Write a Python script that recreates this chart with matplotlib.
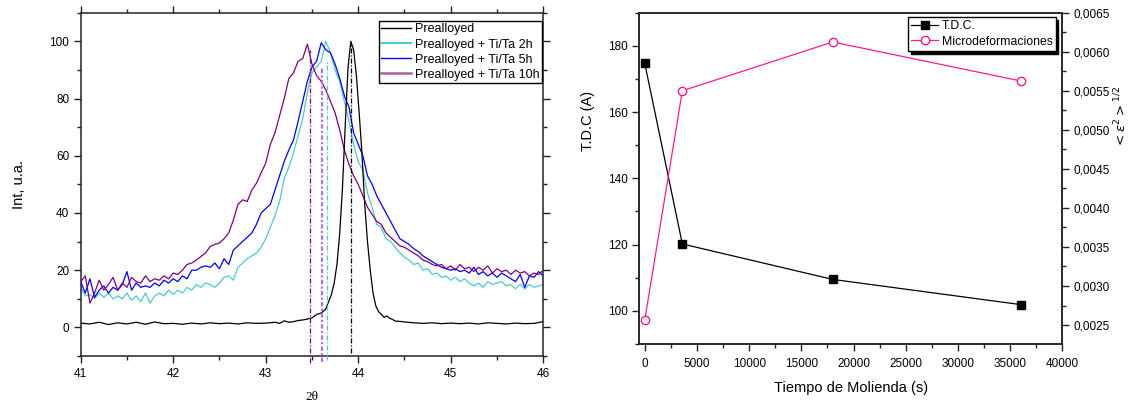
import numpy as np
import matplotlib
matplotlib.use("Agg")
import matplotlib.pyplot as plt
from matplotlib.ticker import MultipleLocator, FuncFormatter
from matplotlib.lines import Line2D

plt.rcParams['font.family'] = ['Liberation Sans', 'DejaVu Sans']

# ---------------- Left panel data (XRD peak) ----------------
two_theta = np.linspace(41.0, 46.0, 101)  # sampling grid, step 0.05

int_2h = [14, 11, 11.5, 10, 12, 10.5, 12, 10, 11, 10,
          12, 9.5, 11, 9, 12, 8.5, 11, 12, 11, 13,
          11.5, 13, 12, 14, 13, 15, 14, 15.5, 15, 14,
          15.5, 17.5, 18, 16.5, 21, 22.5, 24, 25, 26, 28,
          31, 35, 39, 44, 52, 56, 61, 67, 73, 82,
          89, 91, 93, 100, 96, 90, 86, 79, 72, 64,
          58, 55, 47, 42, 36, 35, 31, 30, 28, 26,
          24.5, 23.5, 22, 22.5, 20, 20.5, 18.5, 19, 17.5, 18,
          16.5, 17.5, 16, 17, 15.5, 14.5, 15.5, 14, 16, 15,
          15.5, 16, 14.5, 15, 13.5, 15, 13.5, 15, 14, 14.5, 15]

int_5h = [16, 12, 17, 10.5, 13, 14.5, 12, 14, 13, 15,
          19.5, 13, 15.5, 14, 14.5, 14, 15.5, 14.5, 16.5, 15.5,
          17, 16, 18, 17, 20, 20, 21, 21.5, 21, 22.5,
          20.5, 24, 22, 27, 28.5, 30, 31.5, 33, 36, 40,
          41.5, 43, 48, 53, 58, 62, 65.5, 72, 79, 86,
          91, 93, 99.5, 97, 96, 92, 87, 81, 77, 68,
          64, 60, 53, 50, 46, 43, 40, 37, 34, 31,
          30, 29, 27.5, 26.5, 25, 24, 23, 22, 21, 20.5,
          20, 20.5, 19.5, 20, 19, 21, 18.5, 19.5, 18, 19,
          17.5, 19, 18, 17, 16, 18.5, 14, 18, 17.5, 19.5, 18]

int_10h = [16, 18, 8.5, 12, 16.5, 13, 15, 17.5, 13, 15.5,
           14, 17.5, 16, 15.5, 18, 16, 17, 16.5, 18, 17,
           19, 18.5, 20, 22, 22.5, 23.5, 24.8, 26, 28.3, 29,
           29.5, 31, 33, 37.5, 43, 44.6, 44, 48, 50.4, 54,
           57.4, 64, 68, 74, 80, 87, 89, 93, 94, 99,
           92, 88, 86, 83, 79, 75, 69, 62, 57, 53,
           50, 46, 42, 39.5, 37, 36, 33, 31.5, 30, 28.5,
           28, 27, 26, 25, 23.5, 23, 22, 21.5, 22, 20.5,
           21.5, 20, 22, 20.5, 21, 19.5, 21, 20, 21.5, 19,
           20.5, 19.5, 20, 18.5, 20, 19, 19.5, 18, 19, 18.5, 20]

pre_theta = [41.0, 41.1, 41.2, 41.3, 41.4, 41.5, 41.6, 41.7, 41.8, 41.9,
             42.0, 42.1, 42.2, 42.3, 42.4, 42.5, 42.6, 42.7, 42.8, 42.9,
             43.0, 43.1, 43.15, 43.2, 43.25, 43.3, 43.35, 43.4, 43.45, 43.5,
             43.55, 43.6, 43.65, 43.68, 43.71, 43.74, 43.77, 43.80, 43.83, 43.86,
             43.89, 43.92, 43.95, 43.98, 44.01, 44.04, 44.07, 44.10, 44.13, 44.16,
             44.19, 44.22, 44.25, 44.28, 44.31, 44.34, 44.37, 44.4, 44.45, 44.5,
             44.6, 44.7, 44.8, 44.9, 45.0, 45.1, 45.2, 45.3, 45.4, 45.5,
             45.6, 45.7, 45.8, 45.9, 46.0]
pre_int = [1.5, 1.2, 1.8, 1.0, 1.6, 1.2, 1.8, 1.1, 1.9, 1.3,
           1.4, 1.1, 1.5, 1.2, 1.6, 1.3, 1.5, 1.2, 1.6, 1.4,
           1.5, 1.8, 1.4, 2.3, 1.8, 2.0, 2.4, 2.6, 2.9, 3.3,
           4.5, 5.0, 6.5, 9, 11.5, 15.5, 22, 33, 49, 71,
           91, 100, 97, 88, 75, 61, 43, 30, 20, 12,
           7.5, 5.5, 4.5, 3.5, 4.0, 3.2, 2.8, 2.2, 2.1, 1.9,
           1.6, 1.4, 1.6, 1.3, 1.5, 1.3, 1.5, 1.2, 1.6, 1.4,
           1.2, 1.5, 1.3, 1.4, 2.0]

peak_pos = [43.479, 43.608, 43.666, 43.925]
peak_top = [97, 91, 93, 99]

labels_left = ["Prealloyed", "Prealloyed + Ti/Ta 2h",
               "Prealloyed + Ti/Ta 5h", "Prealloyed + Ti/Ta 10h"]

# ---------------- Right panel data ----------------
milling_time = [0, 3600, 18000, 36000]
tdc = [174.7, 120.2, 109.5, 101.9]
micro = [0.002564, 0.00550, 0.006125, 0.005626]

c_pre = "black"
c_2h = "#4cc9d0"
c_5h = "#0000ff"
c_10h = "#800080"
c_violet = "#b070f0"
c_pink = "#ff1a8c"

fig = plt.figure(figsize=(11.33, 4.05), dpi=100)

# ---------------- Left panel ----------------
ax1 = fig.add_axes([0.0712, 0.121, 0.4083, 0.8476])
lw = 0.9
ax1.plot(pre_theta, pre_int, color=c_pre, lw=lw, label=labels_left[0], zorder=5)
ax1.plot(two_theta, int_2h, color=c_2h, lw=lw, label=labels_left[1], zorder=2)
ax1.plot(two_theta, int_5h, color=c_5h, lw=lw, label=labels_left[2], zorder=3)
ax1.plot(two_theta, int_10h, color=c_10h, lw=lw, label=labels_left[3], zorder=4)

vcols = [c_10h, c_violet, c_2h, c_pre]
vstyles = [(0, (4, 1.5, 1, 1.5)), (0, (2, 1, 1, 1)), (0, (4, 1.5, 1, 1.5)), (0, (4, 1.5, 1, 1.5))]
vlws = [0.9, 1.6, 0.9, 0.9]
vbottom = [-12.4, -12.2, -11.3, -8.9]
for xp, top, col, ls, w, yb in zip(peak_pos, peak_top, vcols, vstyles, vlws, vbottom):
    ax1.plot([xp, xp], [yb, top], color=col, ls=ls, lw=w, clip_on=False, zorder=6)

ax1.set_xlim(41, 46)
ax1.set_ylim(-10, 110)
ax1.xaxis.set_major_locator(MultipleLocator(1))
ax1.xaxis.set_minor_locator(MultipleLocator(0.5))
ax1.yaxis.set_major_locator(MultipleLocator(20))
ax1.yaxis.set_minor_locator(MultipleLocator(10))
ax1.tick_params(which='both', direction='out', top=True, right=True,
                labelsize=8.5, width=1.0, colors='#222222', labelcolor='black')
ax1.tick_params(which='major', length=5.3, pad=3)
ax1.tick_params(which='minor', length=3)
for s in ax1.spines.values():
    s.set_linewidth(1.1)
    s.set_color('#222222')
ax1.set_ylabel("Int, u.a.", fontsize=10.5, labelpad=17)
ax1.set_xlabel("2θ", fontsize=9.5, family=['Liberation Serif', 'DejaVu Serif'], labelpad=8)

handles = [Line2D([], [], color=c_pre, lw=1.0),
           Line2D([], [], color=c_2h, lw=1.5),
           Line2D([], [], color=c_5h, lw=1.0),
           Line2D([], [], color="#a860a8", lw=1.8)]
leg1 = ax1.legend(handles, labels_left, loc='upper right', bbox_to_anchor=(0.997, 0.976),
                  borderaxespad=0, fontsize=9, frameon=True, fancybox=False,
                  edgecolor='black', framealpha=1, labelspacing=0.25, borderpad=0.2,
                  handlelength=2.4, handletextpad=0.3)
leg1.get_frame().set_linewidth(1.0)

# ---------------- Right panel ----------------
ax2 = fig.add_axes([0.564, 0.1506, 0.3737, 0.818])
ax3 = ax2.twinx()
l1, = ax2.plot(milling_time, tdc, color='black', lw=0.9, marker='s', ms=6,
               mfc='black', mec='black', label="T.D.C.")
l2, = ax3.plot(milling_time, micro, color=c_pink, lw=0.9, marker='o', ms=6,
               mfc='white', mec=c_pink, mew=1.0, label="Microdeformaciones")
ax2.set_xlim(-550, 40000)
ax2.set_ylim(90, 190)
ax3.set_ylim(0.002257, 0.0065)
ax2.xaxis.set_major_locator(MultipleLocator(5000))
ax2.xaxis.set_minor_locator(MultipleLocator(2500))
ax2.yaxis.set_major_locator(MultipleLocator(20))
ax2.yaxis.set_minor_locator(MultipleLocator(10))
ax3.yaxis.set_major_locator(MultipleLocator(0.0005))
ax3.yaxis.set_minor_locator(MultipleLocator(0.00025))
ax3.yaxis.set_major_formatter(FuncFormatter(lambda v, p: f"{v:.4f}".replace('.', ',')))
for a in (ax2, ax3):
    a.tick_params(which='both', direction='out', labelsize=8.5, width=1.0,
                  colors='#222222', labelcolor='black')
    a.tick_params(which='major', length=5, pad=3)
    a.tick_params(which='minor', length=3)
    for s in a.spines.values():
        s.set_linewidth(1.1)
        s.set_color('#222222')
ax2.tick_params(axis='x', which='major', pad=5)
ax2.set_xlabel("Tiempo de Molienda (s)", fontsize=10.5, labelpad=8)
ax2.set_ylabel("T.D.C (A)", fontsize=10.5)
ax2.yaxis.set_label_coords(-0.105, 0.673)
ax3.set_ylabel(r"$<\varepsilon^{2}>^{1/2}$", fontsize=9.5, rotation=90)
ax3.yaxis.set_label_coords(1.118, 0.685)

leg2 = ax3.legend([l1, l2], ["T.D.C.", "Microdeformaciones"], loc='upper right',
                  bbox_to_anchor=(0.984, 0.987), borderaxespad=0, fontsize=8.8,
                  frameon=True, fancybox=False, edgecolor='black', framealpha=1,
                  shadow={'color': 'black', 'alpha': 1.0}, labelspacing=0.3,
                  borderpad=0.25, handlelength=2.2, handletextpad=0.3)
leg2.get_frame().set_linewidth(1.0)

fig.savefig("out.png", dpi=100)
